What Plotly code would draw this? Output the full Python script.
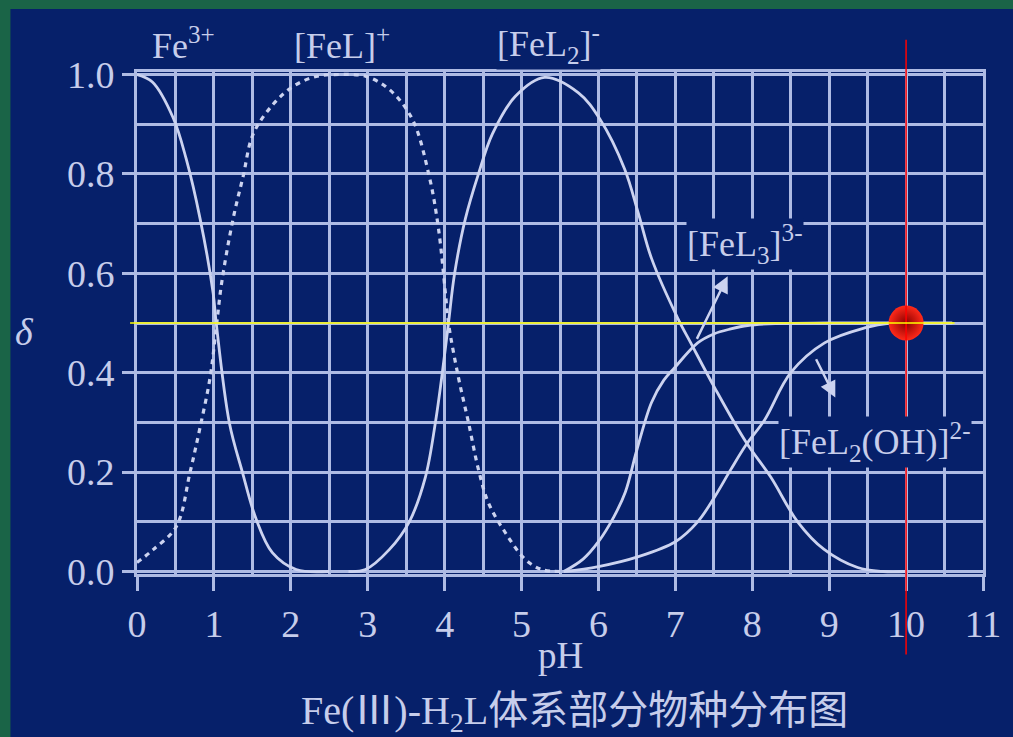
import plotly.graph_objects as go

# ---------------- data ----------------
ph_fe3 = [0, 0.2, 0.47, 0.64, 0.82, 0.99, 1.03, 1.2, 1.37, 1.55, 1.76, 2.07, 2.5]
fe3 = [1.0, 0.985, 0.913, 0.83, 0.71, 0.56, 0.50, 0.30, 0.20, 0.105, 0.038, 0.004, 0.0]

ph_fel = [0, 0.21, 0.51, 0.69, 0.82, 0.95, 1.03, 1.1, 1.25, 1.38, 1.51, 1.77, 2.03, 2.33,
          2.65, 2.98, 3.28, 3.58, 3.8, 3.92, 4.01, 4.05, 4.18, 4.31, 4.44, 4.57, 4.79,
          5.05, 5.26, 5.5]
fel = [0.018, 0.044, 0.09, 0.2, 0.29, 0.39, 0.49, 0.58, 0.71, 0.795, 0.88, 0.94, 0.976,
       0.996, 1.0, 0.996, 0.97, 0.91, 0.795, 0.69, 0.56, 0.50, 0.39, 0.30, 0.205, 0.138,
       0.078, 0.024, 0.004, 0.0]

ph_fel2 = [2.75, 2.97, 3.28, 3.54, 3.75, 3.88, 3.97, 4.05, 4.13, 4.27, 4.44, 4.62, 4.92,
           5.3, 5.74, 6.02, 6.34, 6.52, 6.69, 7.03, 7.2, 7.51, 7.92, 8.24, 8.59, 8.93,
           9.37, 9.7, 10.0]
fel2 = [0.0, 0.004, 0.044, 0.10, 0.19, 0.30, 0.40, 0.50, 0.60, 0.71, 0.80, 0.88, 0.956,
        0.994, 0.963, 0.91, 0.81, 0.72, 0.63, 0.51, 0.46, 0.37, 0.26, 0.19, 0.10, 0.045,
        0.008, 0.0, 0.0]

ph_fel3 = [5.55, 5.8, 6.0, 6.2, 6.35, 6.5, 6.69, 6.85, 6.99, 7.29, 7.5, 7.72, 7.94,
           8.3, 9.0, 10.0, 10.6]
fel3 = [0.0, 0.025, 0.06, 0.11, 0.16, 0.245, 0.34, 0.385, 0.41, 0.46, 0.478, 0.488,
        0.495, 0.499, 0.5, 0.5, 0.5]

ph_feoh = [5.55, 6.0, 6.52, 7.0, 7.29, 7.51, 7.72, 7.92, 8.16, 8.5, 8.94, 9.46, 9.8, 10.0]
feoh = [0.0, 0.01, 0.03, 0.06, 0.10, 0.15, 0.205, 0.255, 0.305, 0.40, 0.46, 0.49, 0.5, 0.5]

x_ticks = list(range(0, 12))
y_ticks = [0.0, 0.2, 0.4, 0.6, 0.8, 1.0]

species_labels = ["Fe<sup>3+</sup>", "[FeL]<sup>+</sup>", "[FeL<sub>2</sub>]<sup>-</sup>",
                  "[FeL<sub>3</sub>]<sup>3-</sup>", "[FeL<sub>2</sub>(OH)]<sup>2-</sup>"]
label_ph = [0.6, 2.67, 5.35, 7.9, 9.6]
label_delta = [1.062, 1.062, 1.062, 0.658, 0.26]
label_size = [36, 36, 36, 36, 36]

arrow_head = [(7.68, 0.594), (9.08, 0.35)]
arrow_tail = [(7.27, 0.465), (8.82, 0.43)]

marker_point = (10, 0.5)
red_line_delta = (1.07, -0.167)
yellow_line_ph = (-0.09, 10.63)

title_text = "Fe(Ⅲ)-H<sub>2</sub>L体系部分物种分布图"

# ---------------- styling ----------------
W, H = 1013, 737
ML, MR, MT, MB = 137, 27, 72, 163
XR = [0, 11]
YR = [-0.005, 1.005]
NAVY = "#06206a"
GREEN = "#1a6447"
GRID = "#aebbe4"
CURVE = "#ccd3f0"
TXT = "#c6cdeb"
SERIF = "Liberation Serif, Noto Sans CJK SC, serif"

PW = W - ML - MR
PH_ = H - MT - MB


def xp(v):
    return (v - XR[0]) / (XR[1] - XR[0])


def yp(v):
    return (v - YR[0]) / (YR[1] - YR[0])


def pxp(px):
    return (px - ML) / PW


def pyp(py):
    return 1 - (py - MT) / PH_


fig = go.Figure()

solid = dict(color=CURVE, width=2.8, shape="spline", smoothing=1.0)
fig.add_trace(go.Scatter(x=ph_fe3, y=fe3, mode="lines", line=solid, hoverinfo="skip"))
fig.add_trace(go.Scatter(x=ph_fel, y=fel, mode="lines",
                         line=dict(color=CURVE, width=3.2, dash="5px,5px", shape="spline", smoothing=1.0),
                         hoverinfo="skip"))
fig.add_trace(go.Scatter(x=ph_fel2, y=fel2, mode="lines", line=solid, hoverinfo="skip"))
fig.add_trace(go.Scatter(x=ph_fel3, y=fel3, mode="lines", line=solid, hoverinfo="skip"))
fig.add_trace(go.Scatter(x=ph_feoh, y=feoh, mode="lines", line=solid, hoverinfo="skip"))

fig.add_trace(go.Scatter(x=[marker_point[0]], y=[marker_point[1]], mode="markers",
                         marker=dict(size=35, color="#ff2a1a",
                                     gradient=dict(type="radial", color="#8a0000"),
                                     line=dict(width=0)),
                         cliponaxis=False, hoverinfo="skip"))

shapes = [
    dict(type="rect", xref="paper", yref="paper", x0=pxp(10), x1=pxp(W + 5),
         y0=pyp(H + 5), y1=pyp(9), fillcolor=NAVY, line=dict(width=0), layer="below"),
    dict(type="line", xref="paper", yref="paper",
         x0=xp(marker_point[0]), x1=xp(marker_point[0]),
         y0=yp(red_line_delta[0]), y1=yp(red_line_delta[1]),
         line=dict(color="#ff0000", width=1.5), layer="above"),
    dict(type="line", xref="paper", yref="paper",
         x0=xp(yellow_line_ph[0]), x1=xp(yellow_line_ph[1]),
         y0=yp(marker_point[1]), y1=yp(marker_point[1]),
         line=dict(color="#ffff00", width=1.5), layer="above"),
]

annotations = []
for t, xv, yv, fs in zip(species_labels, label_ph, label_delta, label_size):
    annotations.append(dict(x=xp(xv), y=yp(yv), xref="paper", yref="paper", text=t,
                            showarrow=False, xanchor="center", yanchor="middle",
                            font=dict(family=SERIF, size=fs, color=TXT),
                            bgcolor=NAVY, borderpad=0))
for (hx, hy), (tx, ty) in zip(arrow_head, arrow_tail):
    annotations.append(dict(x=hx, y=hy, ax=tx, ay=ty, xref="x", yref="y", axref="x", ayref="y",
                            text="", showarrow=True, arrowhead=2, arrowsize=1.3,
                            arrowwidth=2.5, arrowcolor=CURVE))
annotations.append(dict(x=pxp(24), y=pyp(332), xref="paper", yref="paper", text="<i>δ</i>",
                        showarrow=False, xanchor="center", yanchor="middle",
                        font=dict(family=SERIF, size=38, color=TXT)))
annotations.append(dict(x=xp(5.5), y=pyp(655), xref="paper", yref="paper", text="pH",
                        showarrow=False, xanchor="center", yanchor="middle",
                        font=dict(family=SERIF, size=37, color=TXT)))
annotations.append(dict(x=pxp(576), y=pyp(713), xref="paper", yref="paper", text=title_text,
                        showarrow=False, xanchor="center", yanchor="middle",
                        font=dict(family=SERIF, size=40, color=TXT)))

fig.update_layout(
    width=W, height=H,
    margin=dict(l=ML, r=MR, t=MT, b=MB, pad=0),
    paper_bgcolor=GREEN, plot_bgcolor=NAVY,
    showlegend=False,
    shapes=shapes, annotations=annotations,
    xaxis=dict(range=XR, tickvals=x_ticks, ticktext=[str(v) for v in x_ticks],
               showgrid=True, gridcolor=GRID, gridwidth=2.8,
               minor=dict(dtick=0.5, showgrid=True, gridcolor=GRID, gridwidth=2.8),
               showline=True, mirror=True, linecolor=GRID, linewidth=2.8,
               ticks="outside", ticklen=14, tickwidth=2.8, tickcolor=GRID,
               zeroline=False, tickfont=dict(family=SERIF, size=38, color=TXT)),
    yaxis=dict(range=YR, tickvals=y_ticks, ticktext=[f"{v:.1f}" for v in y_ticks],
               showgrid=True, gridcolor=GRID, gridwidth=2.8,
               minor=dict(dtick=0.1, showgrid=True, gridcolor=GRID, gridwidth=2.8),
               showline=True, mirror=True, linecolor=GRID, linewidth=2.8,
               ticks="outside", ticklen=12, tickwidth=2.8, tickcolor=GRID,
               zeroline=False, tickfont=dict(family=SERIF, size=38, color=TXT)),
)

fig.write_html(
    "out.html",
    config={"displayModeBar": False},
    post_script="document.body.style.margin='0';document.body.style.overflow='hidden';"
                "document.body.style.background='" + GREEN + "';",
)
